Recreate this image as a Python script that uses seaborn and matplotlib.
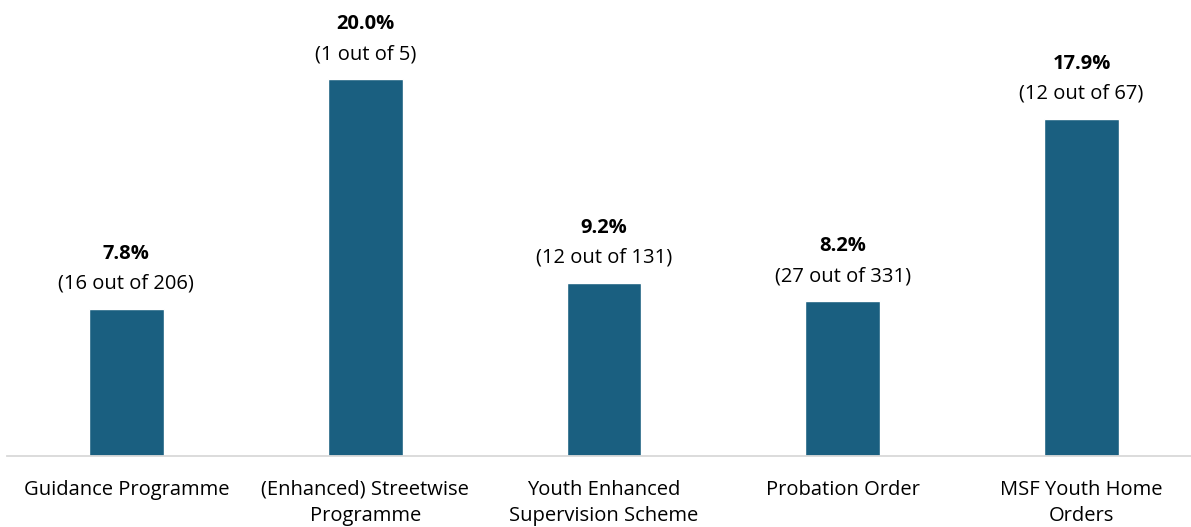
import matplotlib
matplotlib.use("Agg")
import matplotlib.pyplot as plt
import seaborn as sns
import pandas as pd

# Data
categories = [
    "Guidance Programme",
    "(Enhanced) Streetwise\nProgramme",
    "Youth Enhanced\nSupervision Scheme",
    "Probation Order",
    "MSF Youth Home\nOrders",
]
counts = [16, 1, 12, 27, 12]
totals = [206, 5, 131, 331, 67]
percentages = [7.8, 20.0, 9.2, 8.2, 17.9]

df = pd.DataFrame({"category": categories, "pct": percentages})

sns.set_theme(style="white")
plt.rcParams["font.family"] = ["Open Sans", "DejaVu Sans"]

W, H = 1191, 527
fig = plt.figure(figsize=(W / 100, H / 100), dpi=100)
ax = fig.add_axes([7 / W, (H - 456) / H, 1194 / W, 456 / H])

bar_color = "#1A5F80"
sns.barplot(data=df, x="category", y="pct", color=bar_color, width=0.314,
            saturation=1, ax=ax)

ax.set_xlim(-0.5, 4.5)
ax.set_ylim(0, 20 * 456 / 377)

fs = 14.5
for i, (p, c, t) in enumerate(zip(percentages, counts, totals)):
    ax.annotate(f"{p:.1f}%", xy=(i, p), xytext=(0, 55), textcoords="offset pixels",
                ha="center", va="center", fontsize=fs, fontweight="bold", color="black")
    ax.annotate(f"({c} out of {t})", xy=(i, p), xytext=(0, 25), textcoords="offset pixels",
                ha="center", va="center", fontsize=fs, color="black")

for s in ["top", "right", "left"]:
    ax.spines[s].set_visible(False)
ax.spines["bottom"].set_color("#D9D9D9")
ax.spines["bottom"].set_linewidth(1.3)
ax.set_yticks([])
ax.set_xlabel("")
ax.set_ylabel("")
ax.tick_params(axis="x", length=0, pad=17, labelsize=fs, colors="black")
for lbl in ax.get_xticklabels():
    lbl.set_linespacing(1.4)

fig.savefig("out.png", dpi=100)
